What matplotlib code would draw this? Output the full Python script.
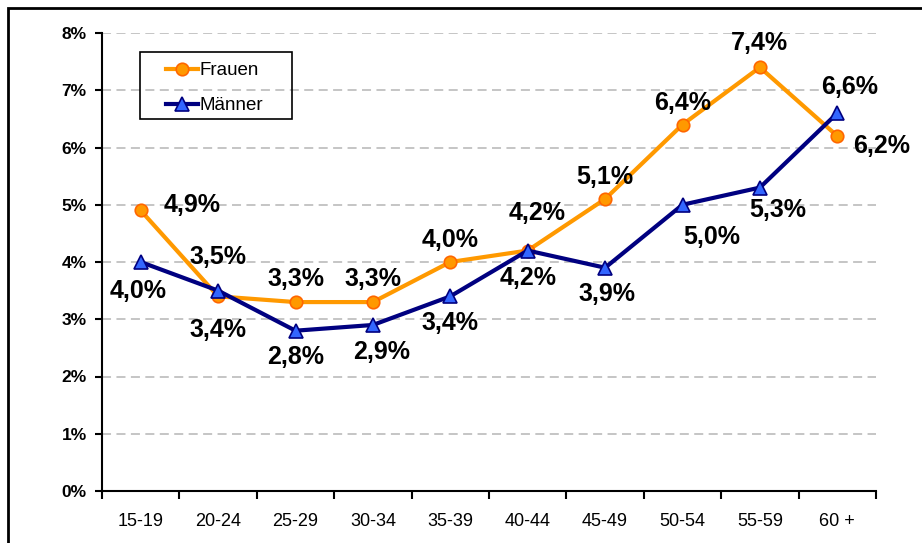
import matplotlib.pyplot as plt
from matplotlib.patches import Rectangle

plt.rcParams['font.family'] = ['Liberation Sans', 'DejaVu Sans']

age_groups = ['15-19', '20-24', '25-29', '30-34', '35-39', '40-44', '45-49', '50-54', '55-59', '60 +']
frauen = [4.9, 3.4, 3.3, 3.3, 4.0, 4.2, 5.1, 6.4, 7.4, 6.2]
maenner = [4.0, 3.5, 2.8, 2.9, 3.4, 4.2, 3.9, 5.0, 5.3, 6.6]

# label offsets in pixels (dx right, dy down)
frauen_offsets = [(51, -5), (0, 34), (0, -23), (0, -23), (0, -22), (9, -38), (0, -22), (0, -22), (0, -24), (44, 10)]
maenner_offsets = [(-3, 29), (0, -34), (0, 26), (9, 27), (0, 27), (0, 27), (2, 26), (29, 32), (18, 22), (12, -26)]

fig = plt.figure(figsize=(9.22, 5.43), dpi=100)
ax = fig.add_axes([102 / 922, 52 / 543, (876 - 102) / 922, (491 - 33) / 543])

x = list(range(len(age_groups)))
ax.plot(x, frauen, color='#FF9900', lw=3, marker='o', ms=9,
        mfc='#FF9900', mec='#FF6600', mew=1.2, label='Frauen', zorder=3)
ax.plot(x, maenner, color='#000080', lw=3, marker='^', ms=10,
        mfc='#3366FF', mec='#000080', mew=1.2, label='Männer', zorder=4)

def fmt(v):
    return f'{v:.1f}%'.replace('.', ',')

for xi, v, (dx, dy) in zip(x, frauen, frauen_offsets):
    ax.annotate(fmt(v), (xi, v), xytext=(dx * 0.72, -dy * 0.72), textcoords='offset points',
                ha='center', va='center', fontsize=18, fontweight='bold', zorder=5)
for xi, v, (dx, dy) in zip(x, maenner, maenner_offsets):
    ax.annotate(fmt(v), (xi, v), xytext=(dx * 0.72, -dy * 0.72), textcoords='offset points',
                ha='center', va='center', fontsize=18, fontweight='bold', zorder=5)

ax.set_xlim(-0.5, len(age_groups) - 0.5)
ax.set_ylim(0, 8)
ax.set_yticks(range(0, 9))
ax.set_yticklabels([f'{i}%' for i in range(0, 9)], fontsize=12.5, fontweight='bold')
ax.set_xticks(x)
ax.set_xticklabels(age_groups, fontsize=13)
ax.set_xticks([i - 0.5 for i in range(len(age_groups) + 1)], minor=True)
ax.tick_params(axis='x', which='major', length=0, pad=16)
ax.tick_params(axis='x', which='minor', length=6, width=1.5, direction='out')
ax.tick_params(axis='y', length=5, width=1.5, direction='out', pad=6)

ax.yaxis.grid(True, color='#C0C0C0', ls=(0, (5, 3)), lw=1.3)
ax.set_axisbelow(True)
for s in ['top', 'right']:
    ax.spines[s].set_visible(False)
for s in ['left', 'bottom']:
    ax.spines[s].set_linewidth(1.5)

# legend entries without frame, plus a separate box like the reference
leg = ax.legend(loc='upper left', bbox_to_anchor=(166 / 922, 1 - 62 / 543),
                bbox_transform=fig.transFigure, borderaxespad=0, borderpad=0,
                fontsize=13.5, frameon=False, handlelength=1.7, handletextpad=0.1,
                labelspacing=0.95)
fig.patches.append(Rectangle((140 / 922, 1 - 119 / 543), 152 / 922, 67 / 543,
                             transform=fig.transFigure, fill=False, edgecolor='black',
                             lw=1.2, zorder=10))

fig.patches.append(Rectangle((8 / 922, -0.1), 1.2, 1.1 - 8 / 543, transform=fig.transFigure,
                             fill=False, edgecolor='black', lw=2, zorder=10))

fig.savefig('out.png', dpi=100)
